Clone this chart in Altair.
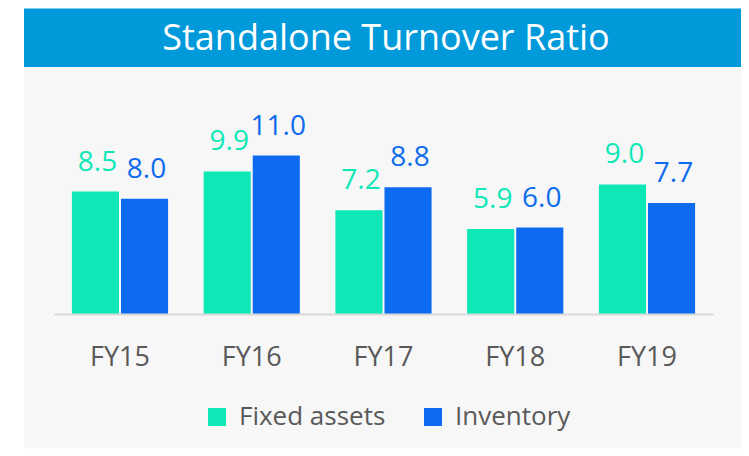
import altair as alt
import pandas as pd

title_text = "Standalone Turnover Ratio"
years = ["FY15", "FY16", "FY17", "FY18", "FY19"]
fixed_assets = [8.5, 9.9, 7.2, 5.9, 9.0]
inventory = [8.0, 11.0, 8.8, 6.0, 7.7]
series = ["Fixed assets", "Inventory"]
colors = ["#0DE8B6", "#0D6BEF"]

rows = []
for i, y in enumerate(years):
    rows.append({"year": y, "series": series[0], "value": fixed_assets[i], "order": 0})
    rows.append({"year": y, "series": series[1], "value": inventory[i], "order": 1})
df = pd.DataFrame(rows)
one = pd.DataFrame({"t": [title_text]})

FONT = "Open Sans"
W, H = 659, 216

color_scale = alt.Scale(domain=series, range=colors)

gray_bg = alt.Chart(one).mark_rect(color="#F7F7F7").encode(
    x=alt.value(-30), x2=alt.value(687), y=alt.value(-31), y2=alt.value(350.5)
)
blue_bar = alt.Chart(one).mark_rect(color="#0099DA").encode(
    x=alt.value(-30), x2=alt.value(687), y=alt.value(-89.5), y2=alt.value(-31)
)
title = alt.Chart(one).mark_text(
    font=FONT, fontSize=36, color="white", align="center", baseline="alphabetic"
).encode(x=alt.value(332), y=alt.value(-48.5), text="t:N")

x_enc = alt.X(
    "year:N", sort=years,
    scale=alt.Scale(paddingInner=0.27, paddingOuter=0.136),
    axis=alt.Axis(
        title=None, labelAngle=0, ticks=False, labelFont=FONT, labelFontSize=27,
        labelColor="#595959", labelPadding=51, labelBaseline="alphabetic",
        domainColor="#D9D9D9", domainWidth=2, grid=False, zindex=1,
    ),
)
y_enc = alt.Y("value:Q", scale=alt.Scale(domain=[0, 15], nice=False), axis=None)
xoff = alt.XOffset("series:N", sort=series, scale=alt.Scale(paddingInner=0.04))

bars = alt.Chart(df).mark_bar().encode(
    x=x_enc, y=y_enc, xOffset=xoff,
    color=alt.Color(
        "series:N", scale=color_scale, sort=series,
        legend=alt.Legend(
            title=None, orient="none", legendX=150, legendY=306, direction="horizontal",
            symbolType="square", symbolSize=324, symbolStrokeWidth=0, symbolOpacity=1,
            labelFont=FONT, labelFontSize=26, labelColor="#595959", labelOffset=9,
            columnPadding=34, padding=0, labelLimit=300,
        ),
    ),
)
labels = alt.Chart(df).mark_text(
    font=FONT, fontSize=28, baseline="alphabetic", dy=-21, dx=2
).encode(
    x=x_enc, y=y_enc, xOffset=xoff,
    text=alt.Text("value:Q", format=".1f"),
    color=alt.Color("series:N", scale=color_scale, legend=None),
)

chart = alt.layer(gray_bg, blue_bar, title, bars, labels).properties(
    width=W, height=H, background="white",
    padding={"left": 16, "top": 0, "right": 0, "bottom": 0},
).configure_view(strokeWidth=0)

chart.save("out.html", embed_options={"renderer": "svg", "actions": False})
